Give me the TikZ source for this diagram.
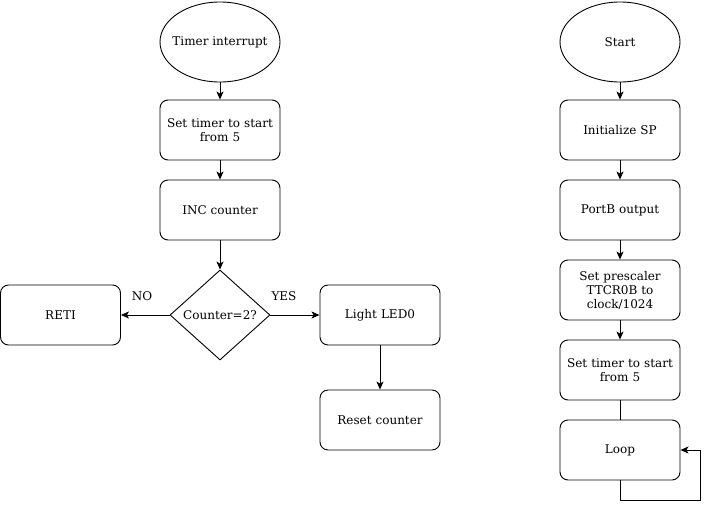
\documentclass[tikz,border=0pt]{standalone}
\usepackage{fontspec}
\setmainfont{DejaVu Serif}
\usetikzlibrary{shapes.geometric,arrows.meta}
\begin{document}
\begin{tikzpicture}[x=1pt,y=-1pt,line width=0.9pt,
  every node/.style={font=\fontsize{12}{14}\selectfont, align=center},
  proc/.style={draw, rounded corners=8pt, minimum width=120pt, minimum height=60pt, text width=112pt, inner sep=0pt},
  term/.style={draw, ellipse, minimum width=120pt, minimum height=80pt, inner sep=0pt},
  dec/.style={draw, diamond, minimum width=100pt, minimum height=90pt, inner sep=0pt},
  arr/.style={-{Stealth[length=8pt,width=7pt,inset=2pt]}},
  lbl/.style={draw=none}]
\useasboundingbox (0,0) rectangle (709,509);
% left column
\node[term] (ti) at (220,42) {};
\node at (220,42) {Timer interrupt};
\node[proc] (st1) at (220,130) {Set timer to start\\from 5};
\node[proc] (inc) at (220,210) {INC counter};
\node[dec] (cnt) at (220,315) {};
\node at (220,315) {Counter=2?};
\node[proc] (reti) at (60.5,315) {RETI};
\node[proc] (led) at (380,315) {Light LED0};
\node[proc] (rst) at (380,420) {Reset counter};
\node[lbl] (no) at (142,296) {NO};
\node[lbl] (yes) at (284,296) {YES};
\draw[arr] (ti) -- (st1);
\draw[arr] (st1) -- (inc);
\draw[arr] (inc) -- (cnt);
\draw[arr] (cnt) -- (reti);
\draw[arr] (cnt) -- (led);
\draw[arr] (led) -- (rst);
% right column
\node[term] (start) at (620,42) {};
\node at (620,42) {Start};
\node[proc] (isp) at (620,130) {Initialize SP};
\node[proc] (pb) at (620,210) {PortB output};
\node[proc] (pre) at (620,290) {Set prescaler\\TTCR0B to\\clock/1024};
\node[proc] (st2) at (620,370) {Set timer to start\\from 5};
\node[proc] (loop) at (620,450) {Loop};
\coordinate (c1) at (620,500);
\coordinate (c2) at (700,500);
\coordinate (c3) at (700,450);
\draw[arr] (start) -- (isp);
\draw[arr] (isp) -- (pb);
\draw[arr] (pb) -- (pre);
\draw[arr] (pre) -- (st2);
\draw (st2) -- (loop);
\draw[arr] (loop.south) -- (c1) -- (c2) -- (c3) -- (loop.east);
\end{tikzpicture}
\end{document}
